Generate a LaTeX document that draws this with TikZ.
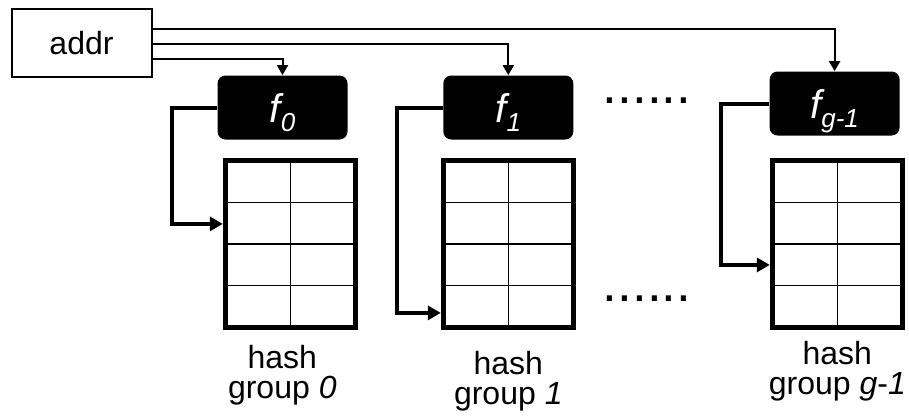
\documentclass[tikz,border=0pt]{standalone}
\usepackage{fontspec}
\setmainfont{Liberation Sans}
\usetikzlibrary{positioning,arrows.meta,calc}

\newcommand{\hashfn}[1]{{\fontsize{20}{20}\selectfont\itshape f\raisebox{-4.5pt}{\fontsize{13}{13}\selectfont #1}}}

\begin{document}
\begin{tikzpicture}[
  x=0.5pt, y=-0.5pt,
  font=\fontsize{16}{15}\selectfont,
  addrline/.style={-{Triangle[length=5pt,width=5.5pt]}, line width=1pt},
  loopline/.style={-{Triangle[length=6.5pt,width=7pt]}, line width=2pt},
  addrbox/.style={draw, line width=1pt, minimum width=70pt, minimum height=34pt, inner sep=0pt},
  func/.style={fill=black, text=white, rounded corners=4pt, minimum width=65pt, minimum height=32pt, inner sep=0pt, text height=16pt, text depth=1pt},
  bucket/.style={draw, line width=2.5pt, minimum width=65pt, minimum height=83.5pt, inner sep=0pt,
    path picture={
      \draw[line width=0.6pt] (path picture bounding box.north) -- (path picture bounding box.south);
      \foreach \r in {0.25,0.5,0.75}
        \draw[line width=0.6pt] ($(path picture bounding box.north west)!\r!(path picture bounding box.south west)$)
          -- ($(path picture bounding box.north east)!\r!(path picture bounding box.south east)$);
    }},
  grouplabel/.style={align=center, anchor=north, inner sep=0pt},
  skipdots/.style={font=\fontsize{26.5}{26.5}\selectfont, anchor=base, inner sep=0pt}
]
\useasboundingbox (0,0) rectangle (909,419);

% address and hash functions
\node[addrbox] (addr) at (81.5,43) {addr};
\node[func] (f0) at (282.5,107.5) {\hashfn{0}};
\node[func, right=47.5pt of f0] (f1) {\hashfn{1}};
\node[func, right=97.75pt of f1, yshift=2pt] (fg) {\hashfn{g-1}};

% hash groups
\node[bucket, below=9pt of f1] (t1) {};
\node[bucket, left=41.5pt of t1] (t0) {};
\node[bucket, right=97pt of t1] (tg) {};

\node[grouplabel, below=7.5pt of t0, xshift=-4pt] (l0) {hash\\group \textit{0}};
\node[grouplabel, below=10.5pt of t1] (l1) {hash\\group \textit{1}};
\node[grouplabel, below=5.5pt of tg] (lg) {hash\\group \textit{g}-\textit{1}};

\node[skipdots] (dtop) at (647,103.6) {......};
\node[skipdots] (dbot) at (647,301.6) {......};

% addr fan-out
\draw[addrline] ($(addr.east)+(0,-14)$) -| (fg.north);
\draw[addrline] ($(addr.east)+(0,1)$) -| (f1.north);
\draw[addrline] ($(addr.east)+(0,16)$) -| (f0.north);

% index into the table
\draw[loopline] (f0.west) -- ++(-45,0) |- ($(t0.west)+(0,-20)$);
\draw[loopline] (f1.west) -- ++(-46,0) |- ($(t1.west)+(0,69)$);
\draw[loopline] (fg.west) -- ++(-48,0) |- ($(tg.west)+(0,21)$);
\end{tikzpicture}
\end{document}
